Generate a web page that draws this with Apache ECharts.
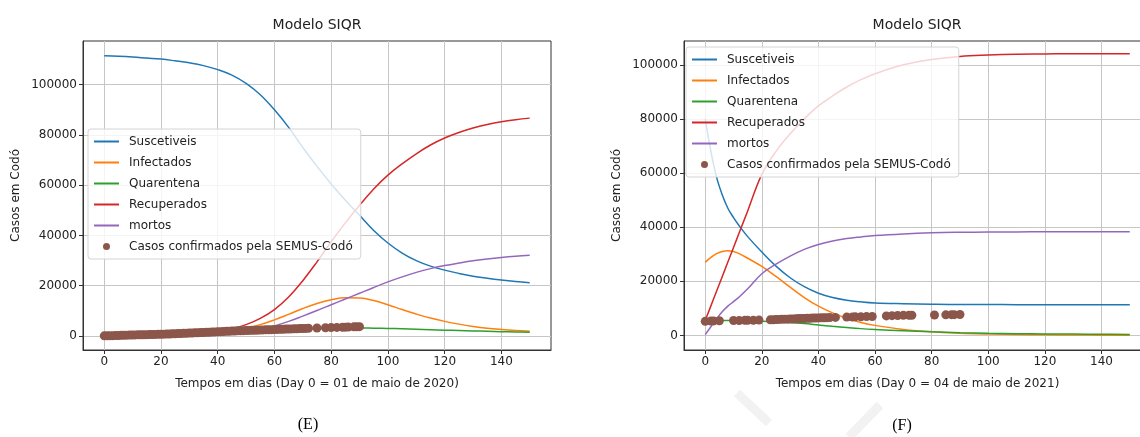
<!DOCTYPE html>
<html>
<head>
<meta charset="utf-8">
<script src="https://cdn.jsdelivr.net/npm/echarts@6/dist/echarts.min.js"></script>
<style>html,body{margin:0;padding:0;background:#fff;}#c{width:1140px;height:437px;}</style>
</head>
<body>
<div id="c"></div>
<script>
// ---------- DATA (E) ----------
const tE = [0,5,10,15,20,25,30,35,40,45,50,55,60,65,70,75,80,85,90,95,100,105,110,115,120,125,130,135,140,145,150];
const susE = [111500,111300,111000,110600,110200,109500,108700,107600,106000,103800,100500,96000,90000,83000,75000,67500,60500,54000,48000,42000,37000,33000,30000,27800,26200,24900,23800,23000,22300,21700,21200];
const infE = [100,130,170,230,320,450,650,950,1400,2100,3100,4500,6400,8600,10900,12900,14400,15200,15100,14100,12400,10500,8700,7100,5800,4700,3800,3100,2600,2200,1900];
const quaE = [0,60,150,260,400,580,780,1000,1250,1500,1800,2050,2300,2550,2750,2950,3100,3200,3200,3100,3000,2850,2700,2500,2300,2150,2000,1850,1700,1600,1500];
const recE = [0,30,80,150,250,400,600,950,1600,2800,4500,7000,10500,15500,22000,29500,37500,45000,52000,58500,64000,68500,72500,76000,78800,81000,82800,84200,85300,86100,86700];
const morE = [0,5,15,30,60,110,200,350,600,1000,1600,2600,4000,5800,7900,10100,12400,14700,17000,19300,21500,23500,25300,26800,28000,29000,29900,30600,31200,31700,32100];
const ptsDaysE = [0,1,2,3,4,5,6,7,8,9,10,11,12,13,14,15,16,17,18,19,20,21,22,23,24,25,26,27,28,29,30,31,32,33,34,35,36,37,38,39,40,41,42,43,44,45,46,47,48,49,50,51,52,53,54,55,56,57,58,59,60,61,62,63,64,65,66,67,68,69,70,71,72,75,78,80,82,84,85,86,88,89,90];
const ptsValsE = [30,60,90,120,150,190,230,260,300,330,360,400,430,460,490,520,550,580,610,630,650,700,740,790,840,890,940,980,1030,1080,1120,1170,1220,1270,1320,1370,1420,1480,1540,1600,1650,1700,1760,1820,1870,1920,1970,2020,2070,2110,2150,2190,2230,2270,2310,2350,2390,2430,2470,2510,2550,2590,2630,2670,2710,2750,2790,2830,2870,2910,2950,3000,3050,3150,3250,3320,3400,3460,3500,3540,3610,3650,3700];

// ---------- DATA (F) ----------
const tF = [0,2,4,6,8,10,12,15,20,25,30,35,40,45,50,55,60,70,80,90,100,110,120,130,140,150];
const susF = [80000,68000,58500,52000,47000,43500,40500,36500,30800,25600,21300,18000,15600,14000,13000,12400,12000,11700,11500,11400,11400,11350,11300,11300,11300,11300];
const infF = [27000,28800,30200,31000,31300,31000,30200,28500,25500,21800,17800,14000,10800,8300,6300,4800,3700,2200,1300,800,500,300,200,130,90,60];
const quaF = [5300,5400,5500,5500,5500,5500,5450,5350,5200,5000,4750,4350,3850,3350,2900,2500,2200,1700,1300,1000,800,650,550,470,400,350];
const recF = [5500,10900,16300,21700,27100,32500,37900,46000,59500,68000,74500,80000,84800,88500,91800,94500,96700,100000,102000,103100,103600,103900,104000,104100,104100,104100];
const morF = [300,3200,6100,8700,10800,12500,14200,17200,22800,26300,29300,31800,33600,34900,35800,36400,36900,37500,37900,38100,38200,38250,38300,38300,38300,38300];
const ptsDaysF = [0,2,3,5,10,12,14,15,17,19,23,24,25,26,27,28,29,30,31,32,33,34,35,36,37,38,39,40,41,42,43,44,46,50,52,53,55,57,59,64,66,68,70,72,73,81,85,87,88,90];
const ptsValsF = [5200,5300,5350,5400,5500,5500,5550,5550,5600,5650,5750,5800,5850,5900,5950,6000,6000,6050,6100,6150,6200,6200,6250,6300,6350,6400,6400,6450,6500,6500,6550,6600,6650,6750,6800,6850,6900,6950,7000,7200,7300,7350,7400,7450,7450,7550,7600,7650,7650,7700];

// ---------- LABELS ----------
const seriesNames = ['Suscetiveis','Infectados','Quarentena','Recuperados','mortos'];
const pointsName = 'Casos confirmados pela SEMUS-Codó';
const xTicks = [0,20,40,60,80,100,120,140];
const yTicks = [0,20000,40000,60000,80000,100000];
const titleText = 'Modelo SIQR';
const yName = 'Casos em Codó';
const xNameE = 'Tempos em dias (Day 0 = 01 de maio de 2020)';
const xNameF = 'Tempos em dias (Day 0 = 04 de maio de 2021)';
const captionE = '(E)';
const captionF = '(F)';

// ---------- STYLE ----------
const colors = ['#1f77b4','#ff7f0e','#2ca02c','#d62728','#9467bd'];
const pointColor = '#8c564b';
const FONT = 'DejaVu Sans';
const TXT = '#222';

function zip(xs, ys){ return xs.map((x,i)=>[x, ys[i]]); }

function makeX(gi, name){
  return {
    type:'value', gridIndex:gi, min:-7.5, max:157.5,
    name:name, nameLocation:'middle', nameGap:28,
    nameTextStyle:{fontFamily:FONT, fontSize:12, color:TXT},
    axisLine:{show:true, onZero:false, lineStyle:{color:'#333', width:1}},
    axisTick:{show:true, customValues:xTicks, length:4, inside:false, lineStyle:{color:'#333'}},
    axisLabel:{customValues:xTicks, fontFamily:FONT, fontSize:12, color:TXT, margin:6, formatter:v=>String(v)},
    splitLine:{show:true, lineStyle:{color:'#c6c6c6', width:1}}
  };
}
function makeY(gi, min, max){
  return {
    type:'value', gridIndex:gi, min:min, max:max,
    name:yName, nameLocation:'middle', nameGap:61,
    nameTextStyle:{fontFamily:FONT, fontSize:12, color:TXT},
    axisLine:{show:true, onZero:false, lineStyle:{color:'#333', width:1}},
    axisTick:{show:true, customValues:yTicks, length:4, inside:false, lineStyle:{color:'#333'}},
    axisLabel:{customValues:yTicks, fontFamily:FONT, fontSize:12, color:TXT, margin:6, formatter:v=>String(v)},
    splitLine:{show:true, lineStyle:{color:'#c6c6c6', width:1}}
  };
}

const curvesE = [susE, infE, quaE, recE, morE];
const curvesF = [susF, infF, quaF, recF, morF];
const series = [];
[[tE, curvesE, ptsDaysE, ptsValsE, 0], [tF, curvesF, ptsDaysF, ptsValsF, 1]].forEach(([t, curves, pd, pv, gi]) => {
  curves.forEach((arr, k) => {
    series.push({
      type:'line', name:seriesNames[k], xAxisIndex:gi, yAxisIndex:gi,
      data: zip(t, arr), symbol:'none', showSymbol:false,
      smooth:0.4,
      lineStyle:{color:colors[k], width:1.5}, itemStyle:{color:colors[k]},
      emphasis:{disabled:true}, z:2
    });
  });
  series.push({
    type:'scatter', name:pointsName, xAxisIndex:gi, yAxisIndex:gi,
    data: zip(pd, pv), symbol:'circle', symbolSize:9,
    itemStyle:{color:pointColor, opacity:1}, emphasis:{disabled:true}, z:3
  });
});

function legendFor(left, top){
  return {
    orient:'vertical', left:left, top:top,
    itemWidth:25, itemHeight:7, itemGap:8,
    padding:[6,8,6,5],
    backgroundColor:'rgba(255,255,255,0.8)', borderColor:'#d4d4d4', borderWidth:1, borderRadius:3,
    selectedMode:false,
    textStyle:{fontFamily:FONT, fontSize:12, color:TXT, lineHeight:13, padding:[0,0,0,5]},
    data: seriesNames.map(n=>({name:n, itemStyle:{opacity:0}})).concat([{name:pointsName, icon:'circle'}])
  };
}

const chart = echarts.init(document.getElementById('c'), null, {renderer:'canvas'});
chart.setOption({
  animation:false,
  backgroundColor:'#fff',
  grid:[
    {left:83, top:41, width:468, height:309, show:true, borderColor:'#333', borderWidth:1, backgroundColor:'transparent', containLabel:false, outerBoundsMode:'none'},
    {left:684, top:41, width:467, height:309, show:true, borderColor:'#333', borderWidth:1, backgroundColor:'transparent', containLabel:false, outerBoundsMode:'none'}
  ],
  xAxis:[makeX(0, xNameE), makeX(1, xNameF)],
  yAxis:[makeY(0, -5600, 117400), makeY(1, -5400, 108800)],
  legend:[legendFor(88,129), legendFor(686,47)],
  series: series,
  graphic:[
    {type:'text', x:317, y:25, style:{text:titleText, font:'14px "DejaVu Sans"', fill:TXT, align:'center', verticalAlign:'middle'}},
    {type:'text', x:917, y:25, style:{text:titleText, font:'14px "DejaVu Sans"', fill:TXT, align:'center', verticalAlign:'middle'}},
    {type:'text', x:308, y:425, style:{text:captionE, font:'16px "Liberation Serif"', fill:'#000', align:'center', verticalAlign:'middle'}},
    {type:'text', x:902, y:426, style:{text:captionF, font:'16px "Liberation Serif"', fill:'#000', align:'center', verticalAlign:'middle'}},
    {type:'polyline', shape:{points:[[737,393],[769,423]]}, style:{stroke:'#f2f2f2', lineWidth:9}, z:-1},
    {type:'polyline', shape:{points:[[880,405],[849,437]]}, style:{stroke:'#f2f2f2', lineWidth:9}, z:-1}
  ]
});
</script>
</body>
</html>
